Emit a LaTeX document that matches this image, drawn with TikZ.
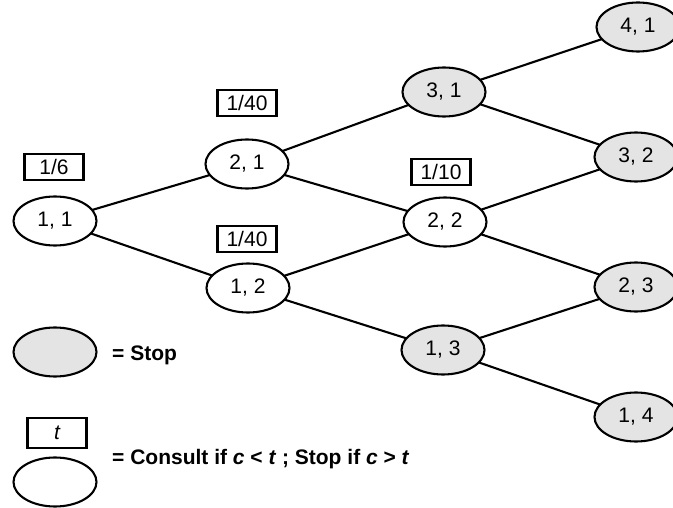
\documentclass[tikz,border=0pt]{standalone}
\usepackage{fontspec}
\setmainfont{Liberation Sans}
\usetikzlibrary{shapes.geometric}
\definecolor{stopgray}{RGB}{228,228,228}
\begin{document}
\begin{tikzpicture}[x=1pt,y=-1pt,
  state/.style={ellipse,draw,line width=2.1pt,minimum width=83pt,minimum height=49pt,inner sep=0pt,font={\fontsize{21}{25}\selectfont},fill=white},
  stopstate/.style={state,fill=stopgray},
  tbox/.style={rectangle,draw,line width=2.1pt,minimum width=59pt,minimum height=26pt,inner sep=0pt,font={\fontsize{21}{25}\selectfont}},
  edge/.style={line width=2.1pt},
  legend/.style={anchor=west,font={\bfseries\fontsize{21}{25}\selectfont},inner sep=0pt}]
\useasboundingbox (0,0) rectangle (673,508);
\clip (0,0) rectangle (673,508);
% branches first, so the ellipses sit on top of them
\coordinate (p11) at (55,221);
\coordinate (p21) at (247,164);
\coordinate (p12) at (248,288);
\coordinate (p31) at (444,92);
\coordinate (p22) at (445,222);
\coordinate (p13) at (443,350);
\coordinate (p41) at (638,27);
\coordinate (p32) at (636,157);
\coordinate (p23) at (636,287);
\coordinate (p14) at (636,417);
\draw[edge] (p11) -- (p21);
\draw[edge] (p11) -- (p12);
\draw[edge] (p21) -- (p31);
\draw[edge] (p21) -- (p22);
\draw[edge] (p12) -- (p22);
\draw[edge] (p12) -- (p13);
\draw[edge] (p31) -- (p41);
\draw[edge] (p31) -- (p32);
\draw[edge] (p22) -- (p32);
\draw[edge] (p22) -- (p23);
\draw[edge] (p13) -- (p23);
\draw[edge] (p13) -- (p14);
% tree states
\node[state]     (n11) at (p11) {1, 1};
\node[state]     (n21) at (p21) {2, 1};
\node[state]     (n12) at (p12) {1, 2};
\node[stopstate] (n31) at (p31) {3, 1};
\node[state]     (n22) at (p22) {2, 2};
\node[stopstate] (n13) at (p13) {1, 3};
\node[stopstate] (n41) at (p41) {4, 1};
\node[stopstate] (n32) at (p32) {3, 2};
\node[stopstate] (n23) at (p23) {2, 3};
\node[stopstate] (n14) at (p14) {1, 4};
% thresholds
\node[tbox] (b11) at (54,167)  {1/6};
\node[tbox] (b21) at (247,103) {1/40};
\node[tbox] (b12) at (247,239) {1/40};
\node[tbox] (b22) at (441,172) {1/10};
% key
\node[stopstate] (kstop) at (55,352) {};
\node[legend] (kstoptxt) at (112,355) {= Stop};
\node[tbox,minimum height=30pt] (kbox) at (57,433) {\itshape t};
\node[state] (kcons) at (55,482) {};
\node[legend] (kconstxt) at (112,459) {= Consult if \textit{c} < \textit{t} ; Stop if \textit{c} > \textit{t}};
\end{tikzpicture}
\end{document}
